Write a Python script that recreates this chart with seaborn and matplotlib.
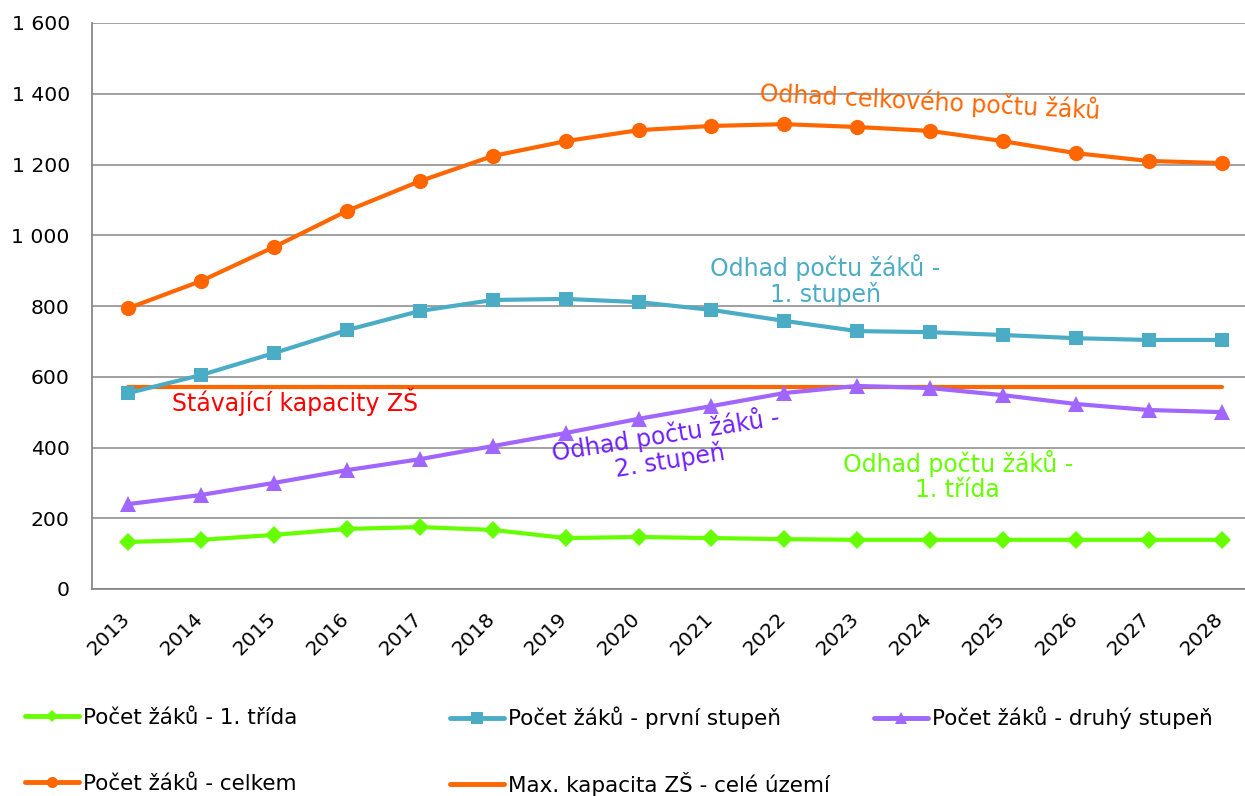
import numpy as np
import pandas as pd
import matplotlib
matplotlib.use("Agg")
import matplotlib.pyplot as plt
import matplotlib.ticker as mticker
import matplotlib.transforms as mtransforms
from matplotlib.lines import Line2D
import seaborn as sns

years = list(range(2013, 2029))
prvni_trida = [133, 139, 153, 170, 175, 167, 144, 147, 144, 141, 139, 139, 139, 139, 139, 139]
prvni_stupen = [554, 605, 667, 732, 786, 817, 820, 811, 789, 758, 729, 726, 718, 709, 704, 704]
druhy_stupen = [240, 266, 300, 336, 367, 404, 441, 481, 517, 554, 574, 568, 548, 523, 506, 500]
celkem = [794, 871, 967, 1069, 1153, 1224, 1266, 1297, 1309, 1314, 1306, 1295, 1266, 1232, 1210, 1204]
kapacita = [570] * 16

labels = ["Počet žáků - 1. třída", "Počet žáků - první stupeň", "Počet žáků - druhý stupeň",
          "Počet žáků - celkem", "Max. kapacita ZŠ - celé území"]

GREEN = "#66ff00"
BLUE = "#4bacc6"
PURPLE = "#a066ff"
ORANGE = "#ff6600"

sns.set_style("white")
plt.rcParams['font.family'] = ['DejaVu Sans']
plt.rcParams['text.color'] = 'black'
plt.rcParams['xtick.labelcolor'] = 'black'
plt.rcParams['ytick.labelcolor'] = 'black'

df = pd.DataFrame({"rok": years, "trida": prvni_trida, "prvni": prvni_stupen,
                   "druhy": druhy_stupen, "celkem": celkem, "kapacita": kapacita})

fig = plt.figure(figsize=(12.45, 7.96), dpi=100)
ax = fig.add_axes([92 / 1245, 1 - 589 / 796, 1166 / 1245, 566 / 796])

lw = 3.0
series = [
    ("trida", GREEN, "D", 9),
    ("prvni", BLUE, "s", 10),
    ("druhy", PURPLE, "^", 11),
    ("celkem", ORANGE, "o", 11),
]
for col, c, m, ms in series:
    sns.lineplot(data=df, x="rok", y=col, color=c, marker=m, markersize=ms,
                 markeredgewidth=0, linewidth=lw, ax=ax, zorder=3)
sns.lineplot(data=df, x="rok", y="kapacita", color=ORANGE, linewidth=lw, ax=ax, zorder=2)

ax.set_xlim(2012.5, 2028.5)
ax.set_ylim(0, 1600)
ax.set_xlabel("")
ax.set_ylabel("")
ax.yaxis.set_major_locator(mticker.MultipleLocator(200))
ax.yaxis.set_major_formatter(mticker.FuncFormatter(lambda v, p: f"{int(v):,}".replace(",", " ")))
ax.set_xticks(years)
ax.set_xticklabels([str(y) for y in years], rotation=45, ha="right", rotation_mode="anchor")
ax.set_xticks(np.arange(2012.5, 2029, 1), minor=True)
ax.tick_params(axis="x", which="major", length=0, pad=12, labelsize=14.5)
ax.tick_params(axis="x", which="minor", length=6, width=1.3, color="#888888")
ax.tick_params(axis="y", length=6, width=1.3, color="#888888", labelsize=14.7, pad=10)
# nudge the rotated year labels a bit left/down (after tick_params, which resets transforms)
shift = mtransforms.ScaledTranslation(-8 / 100, -3 / 100, fig.dpi_scale_trans)
for lbl in ax.get_xticklabels():
    lbl.set_transform(lbl.get_transform() + shift)
ax.grid(axis="y", color="#999999", linewidth=1.3)
ax.set_axisbelow(True)
for s in ["top", "right"]:
    ax.spines[s].set_visible(False)
for s in ["left", "bottom"]:
    ax.spines[s].set_color("#888888")
    ax.spines[s].set_linewidth(1.3)

fs = 17
ax.text(2024.0, 1377, "Odhad celkového počtu žáků", color=ORANGE, fontsize=fs,
        ha="center", va="center", rotation=-3)
ax.text(2022.56, 873, "Odhad počtu žáků -\n1. stupeň", color=BLUE, fontsize=fs,
        ha="center", va="center", linespacing=1.05)
ax.text(2013.6, 529, "Stávající kapacity ZŠ", color="#ff0000", fontsize=fs,
        ha="left", va="center")
ax.text(2020.4, 401, "Odhad počtu žáků -\n2. stupeň", color="#7020ff", fontsize=fs,
        ha="center", va="center", rotation=9, linespacing=1.05)
ax.text(2024.38, 319, "Odhad počtu žáků -\n1. třída", color=GREEN, fontsize=fs,
        ha="center", va="center", linespacing=1.05)

# legend: one entry per slot, fixed grid like the original
hlw = 3.5
handles = [
    Line2D([], [], color=GREEN, lw=hlw, marker="D", markersize=6, markeredgewidth=0),
    Line2D([], [], color=BLUE, lw=hlw, marker="s", markersize=8, markeredgewidth=0),
    Line2D([], [], color=PURPLE, lw=hlw, marker="^", markersize=9, markeredgewidth=0),
    Line2D([], [], color=ORANGE, lw=hlw, marker="o", markersize=8, markeredgewidth=0),
    Line2D([], [], color=ORANGE, lw=hlw),
]
slots = [(25, 718), (450, 718), (874, 718), (25, 784), (450, 784)]
for h, lab, (xpx, ypx) in zip(handles, labels, slots):
    fig.legend([h], [lab], loc="center left", bbox_to_anchor=(xpx / 1245, 1 - ypx / 796),
               frameon=False, fontsize=15.5, handlelength=2.5, handletextpad=0.2,
               borderpad=0, borderaxespad=0)

fig.savefig("out.png", dpi=100)
